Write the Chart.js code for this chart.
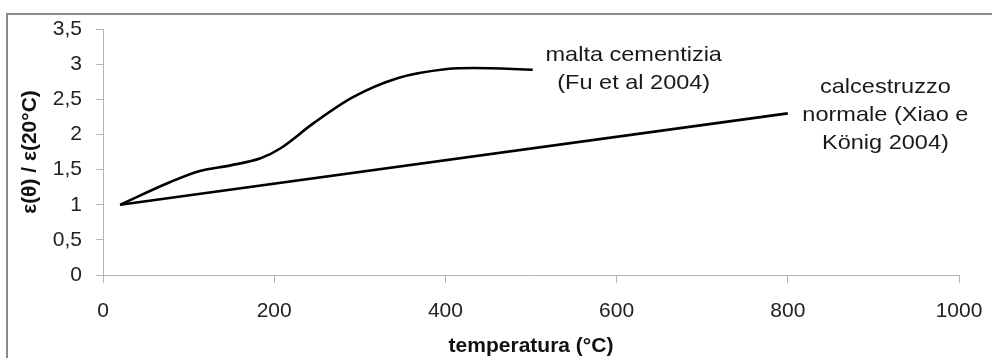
<!DOCTYPE html>
<html>
<head>
<meta charset="utf-8">
<script src="https://cdn.jsdelivr.net/npm/chart.js@4"></script>
<style>
  html, body { margin: 0; padding: 0; background: #fff; }
  #wrap { width: 992px; height: 358px; position: relative; }
</style>
</head>
<body>
<div id="wrap"><canvas id="myChart" width="992" height="358"></canvas></div>
<script>
// malta cementizia (Fu et al 2004)
var maltaT = [20, 78, 113, 149, 184, 207, 246, 292, 344, 402, 433, 502];
var maltaRatio = [1.0, 1.32, 1.48, 1.56, 1.66, 1.80, 2.16, 2.53, 2.80, 2.93, 2.945, 2.92];

// calcestruzzo normale (Xiao e König 2004)
var clsT = [20, 800];
var clsRatio = [1.0, 2.30];

var xTicks = [0, 200, 400, 600, 800, 1000];
var yTicks = [0, 0.5, 1, 1.5, 2, 2.5, 3, 3.5];

// labels on the curves: text lines, anchor temperature, anchor ratio (first line)
var labelLines = [['malta cementizia', '(Fu et al 2004)'], ['calcestruzzo', 'normale (Xiao e', 'König 2004)']];
var labelT = [620, 914];
var labelRatio = [3.13, 2.67];

function toPoints(xs, ys){
    var pts = [];
    for (let i = 0; i < xs.length; i++) {
        pts.push({x: xs[i], y: ys[i]});
    }
    return pts;
}

var fontFam = '"Liberation Sans", Arial, sans-serif';

var frame = {
    id: 'frame',
    beforeDraw: function(chart){
        var c = chart.ctx;
        c.save();
        c.strokeStyle = '#8a8a8a';
        c.lineWidth = 2;
        c.beginPath();
        c.moveTo(7, 358);
        c.lineTo(7, 14);
        c.lineTo(992, 14);
        c.stroke();
        c.restore();
    },
    afterDatasetsDraw: function(chart){
        var c = chart.ctx;
        var xs = chart.scales.x, ys = chart.scales.y;
        c.save();
        c.fillStyle = '#1a1a1a';
        c.font = '21px ' + fontFam;
        c.textAlign = 'center';
        c.textBaseline = 'middle';
        for (let i = 0; i < labelLines.length; i++) {
            var px = xs.getPixelForValue(labelT[i]);
            var py = ys.getPixelForValue(labelRatio[i]);
            for (let j = 0; j < labelLines[i].length; j++) {
                c.save();
                c.translate(px, py + j * 28);
                c.scale(1.12, 1);   // the source text is a bit wide
                c.fillText(labelLines[i][j], 0, 0);
                c.restore();
            }
        }
        c.restore();
    }
};

var ctx = document.getElementById('myChart').getContext('2d');
var chart = new Chart(ctx, {
    type: 'line',
    data: {
        datasets: [{
            label: 'malta cementizia (Fu et al 2004)',
            data: toPoints(maltaT, maltaRatio),
            borderColor: '#000',
            borderWidth: 2.6,
            pointRadius: 0,
            cubicInterpolationMode: 'monotone',
            fill: false
        },{
            label: 'calcestruzzo normale (Xiao e König 2004)',
            data: toPoints(clsT, clsRatio),
            borderColor: '#000',
            borderWidth: 2.6,
            pointRadius: 0,
            tension: 0,
            fill: false
        }]
    },
    options: {
        responsive: false,
        animation: false,
        layout: { padding: { top: 29, right: 33, bottom: 0, left: 0 } },
        plugins: { legend: { display: false }, tooltip: { enabled: false } },
        scales: {
            x: {
                type: 'linear',
                min: 0, max: 1000,
                afterFit: function(s){ s.height = 83; s.paddingLeft = 0; s.paddingRight = 0; },
                afterBuildTicks: function(s){ s.ticks = xTicks.map(function(v){ return {value: v}; }); },
                grid: { drawOnChartArea: false, tickLength: 8, color: '#b5b5b5' },
                border: { color: '#b5b5b5', width: 1 },
                ticks: {
                    color: '#222', font: { family: fontFam, size: 21 }, padding: 16, maxRotation: 0,
                    callback: function(v){ return String(v); }
                },
                title: {
                    display: true, text: 'temperatura (°C)', color: '#111',
                    font: { family: fontFam, size: 21, weight: 'bold' },
                    padding: { top: 0, bottom: -1 }
                }
            },
            y: {
                min: 0, max: 3.5,
                afterFit: function(s){ s.width = 103; },
                afterBuildTicks: function(s){ s.ticks = yTicks.map(function(v){ return {value: v}; }); },
                grid: { drawOnChartArea: false, tickLength: 7, color: '#b5b5b5' },
                border: { color: '#b5b5b5', width: 1 },
                ticks: {
                    color: '#222', font: { family: fontFam, size: 21 }, padding: 14,
                    callback: function(v){ return String(v).replace('.', ','); }
                },
                title: {
                    display: true, text: 'ε(θ) / ε(20°C)', color: '#111',
                    font: { family: fontFam, size: 21, weight: 'bold' },
                    padding: { top: 18, bottom: 0 }
                }
            }
        }
    },
    plugins: [frame]
});
</script>
</body>
</html>
